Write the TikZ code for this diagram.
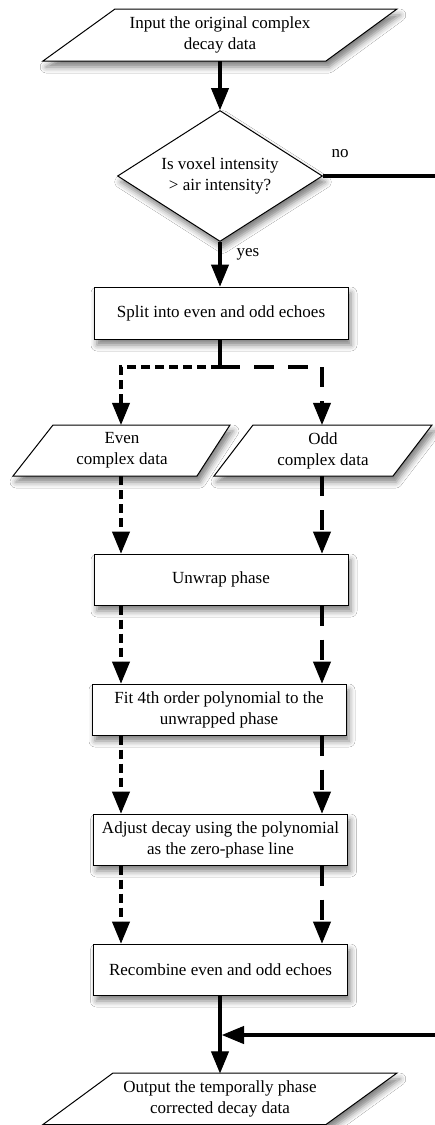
\documentclass[tikz,border=0pt]{standalone}
\usepackage{fontspec}
\setmainfont{Liberation Serif}
\usetikzlibrary{arrows.meta,shapes.geometric,shadows.blur,calc}
\begin{document}
\begin{tikzpicture}[x=1pt,y=-1pt,
  txt/.style={font=\fontsize{17}{21}\selectfont, align=center, inner sep=0pt},
  shd/.style={blur shadow={shadow xshift=3pt, shadow yshift=-6pt, shadow blur radius=6pt, shadow opacity=50}},
  procbox/.style={txt, draw, line width=1pt, fill=white, minimum width=254pt, minimum height=52pt, shd},
  para/.style={draw, line width=1pt, fill=white, shd},
  ghost/.style={txt, minimum height=52pt},
  tip/.style={-{Triangle[width=18pt,length=22pt,line width=1pt,fill=black]}},
  solidarr/.style={line width=4pt, tip},
  evenarr/.style={line width=4pt, tip, dash pattern=on 9pt off 5pt},
  oddarr/.style={line width=4pt, tip, dash pattern=on 20pt off 14pt},
  lbl/.style={font=\fontsize{17}{20}\selectfont, inner sep=0pt}
]
\useasboundingbox (0,0) rectangle (435,1125);
\fill[white] (0,0) rectangle (435,1125);
\coordinate (colL) at (121,0);
\coordinate (colR) at (322,0);

% input parallelogram
\path[para] (115,9) -- (397,9) -- (326,61) -- (43,61) -- cycle;
\node[ghost] (in) at (220,35) {Input the original complex\\decay data};

% decision
\node[txt, draw, line width=1pt, fill=white, shape=diamond, aspect=1.565, minimum width=205pt, minimum height=131pt, shd] (dec) at (220,176) {Is voxel intensity\\ \textgreater{} air intensity?};
\node[lbl] (no) at (340,154) {no};
\node[lbl] (yes) at (248,254) {yes};

% split
\node[procbox] (split) at (221,313) {Split into even and odd echoes};

% even / odd parallelograms
\path[para] (53,425) -- (230,425) -- (197,476) -- (13,476) -- cycle;
\node[ghost, minimum height=51pt] (even) at (122,450.5) {Even\\complex data};
\path[para] (253,425) -- (432,425) -- (393,476) -- (214,476) -- cycle;
\node[ghost, minimum height=51pt] (odd) at (323,450.5) {Odd\\complex data};

\node[procbox, minimum height=51pt] (unwrap) at (221,579.5) {Unwrap phase};
\node[procbox, minimum height=51pt] (fit) at (219,709.5) {Fit 4th order polynomial to the\\unwrapped phase};
\node[procbox, minimum height=51pt] (adj) at (220.5,839.5) {Adjust decay using the polynomial\\as the zero-phase line};
\node[procbox, minimum height=51pt] (rec) at (220.5,969.5) {Recombine even and odd echoes};

% output parallelogram
\path[para] (113,1073) -- (397,1073) -- (326,1124.5) -- (43,1124.5) -- cycle;
\node[ghost, minimum height=51pt] (out) at (220,1099) {Output the temporally phase\\corrected decay data};

% connectors
\draw[solidarr] (in.south) -- (dec.north);
\draw[solidarr] (dec.south) -- (split.north -| dec.south);
\coordinate (fork) at (220,367);
\draw[line width=4pt] (split.south -| fork) -- ([yshift=-2pt]fork);
\draw[evenarr] (fork) -- (fork -| colL) -- (even.north -| colL);
\draw[oddarr] (fork) -- (fork -| colR) -- (odd.north -| colR);

\draw[evenarr] (even.south -| colL) -- (unwrap.north -| colL);
\draw[oddarr] (odd.south -| colR) -- (unwrap.north -| colR);
\draw[evenarr] (unwrap.south -| colL) -- (fit.north -| colL);
\draw[oddarr] (unwrap.south -| colR) -- (fit.north -| colR);
\draw[evenarr] (fit.south -| colL) -- (adj.north -| colL);
\draw[oddarr] (fit.south -| colR) -- (adj.north -| colR);
\draw[evenarr] (adj.south -| colL) -- (rec.north -| colL);
\draw[oddarr] (adj.south -| colR) -- (rec.north -| colR);

\coordinate (join) at (222,1035);
\draw[solidarr] (rec.south -| in.south) -- (out.north -| in.south);
\draw[line width=4pt, tip] (dec.east) -- (445,176) -- (445,1035) -- (join);
\end{tikzpicture}
\end{document}
